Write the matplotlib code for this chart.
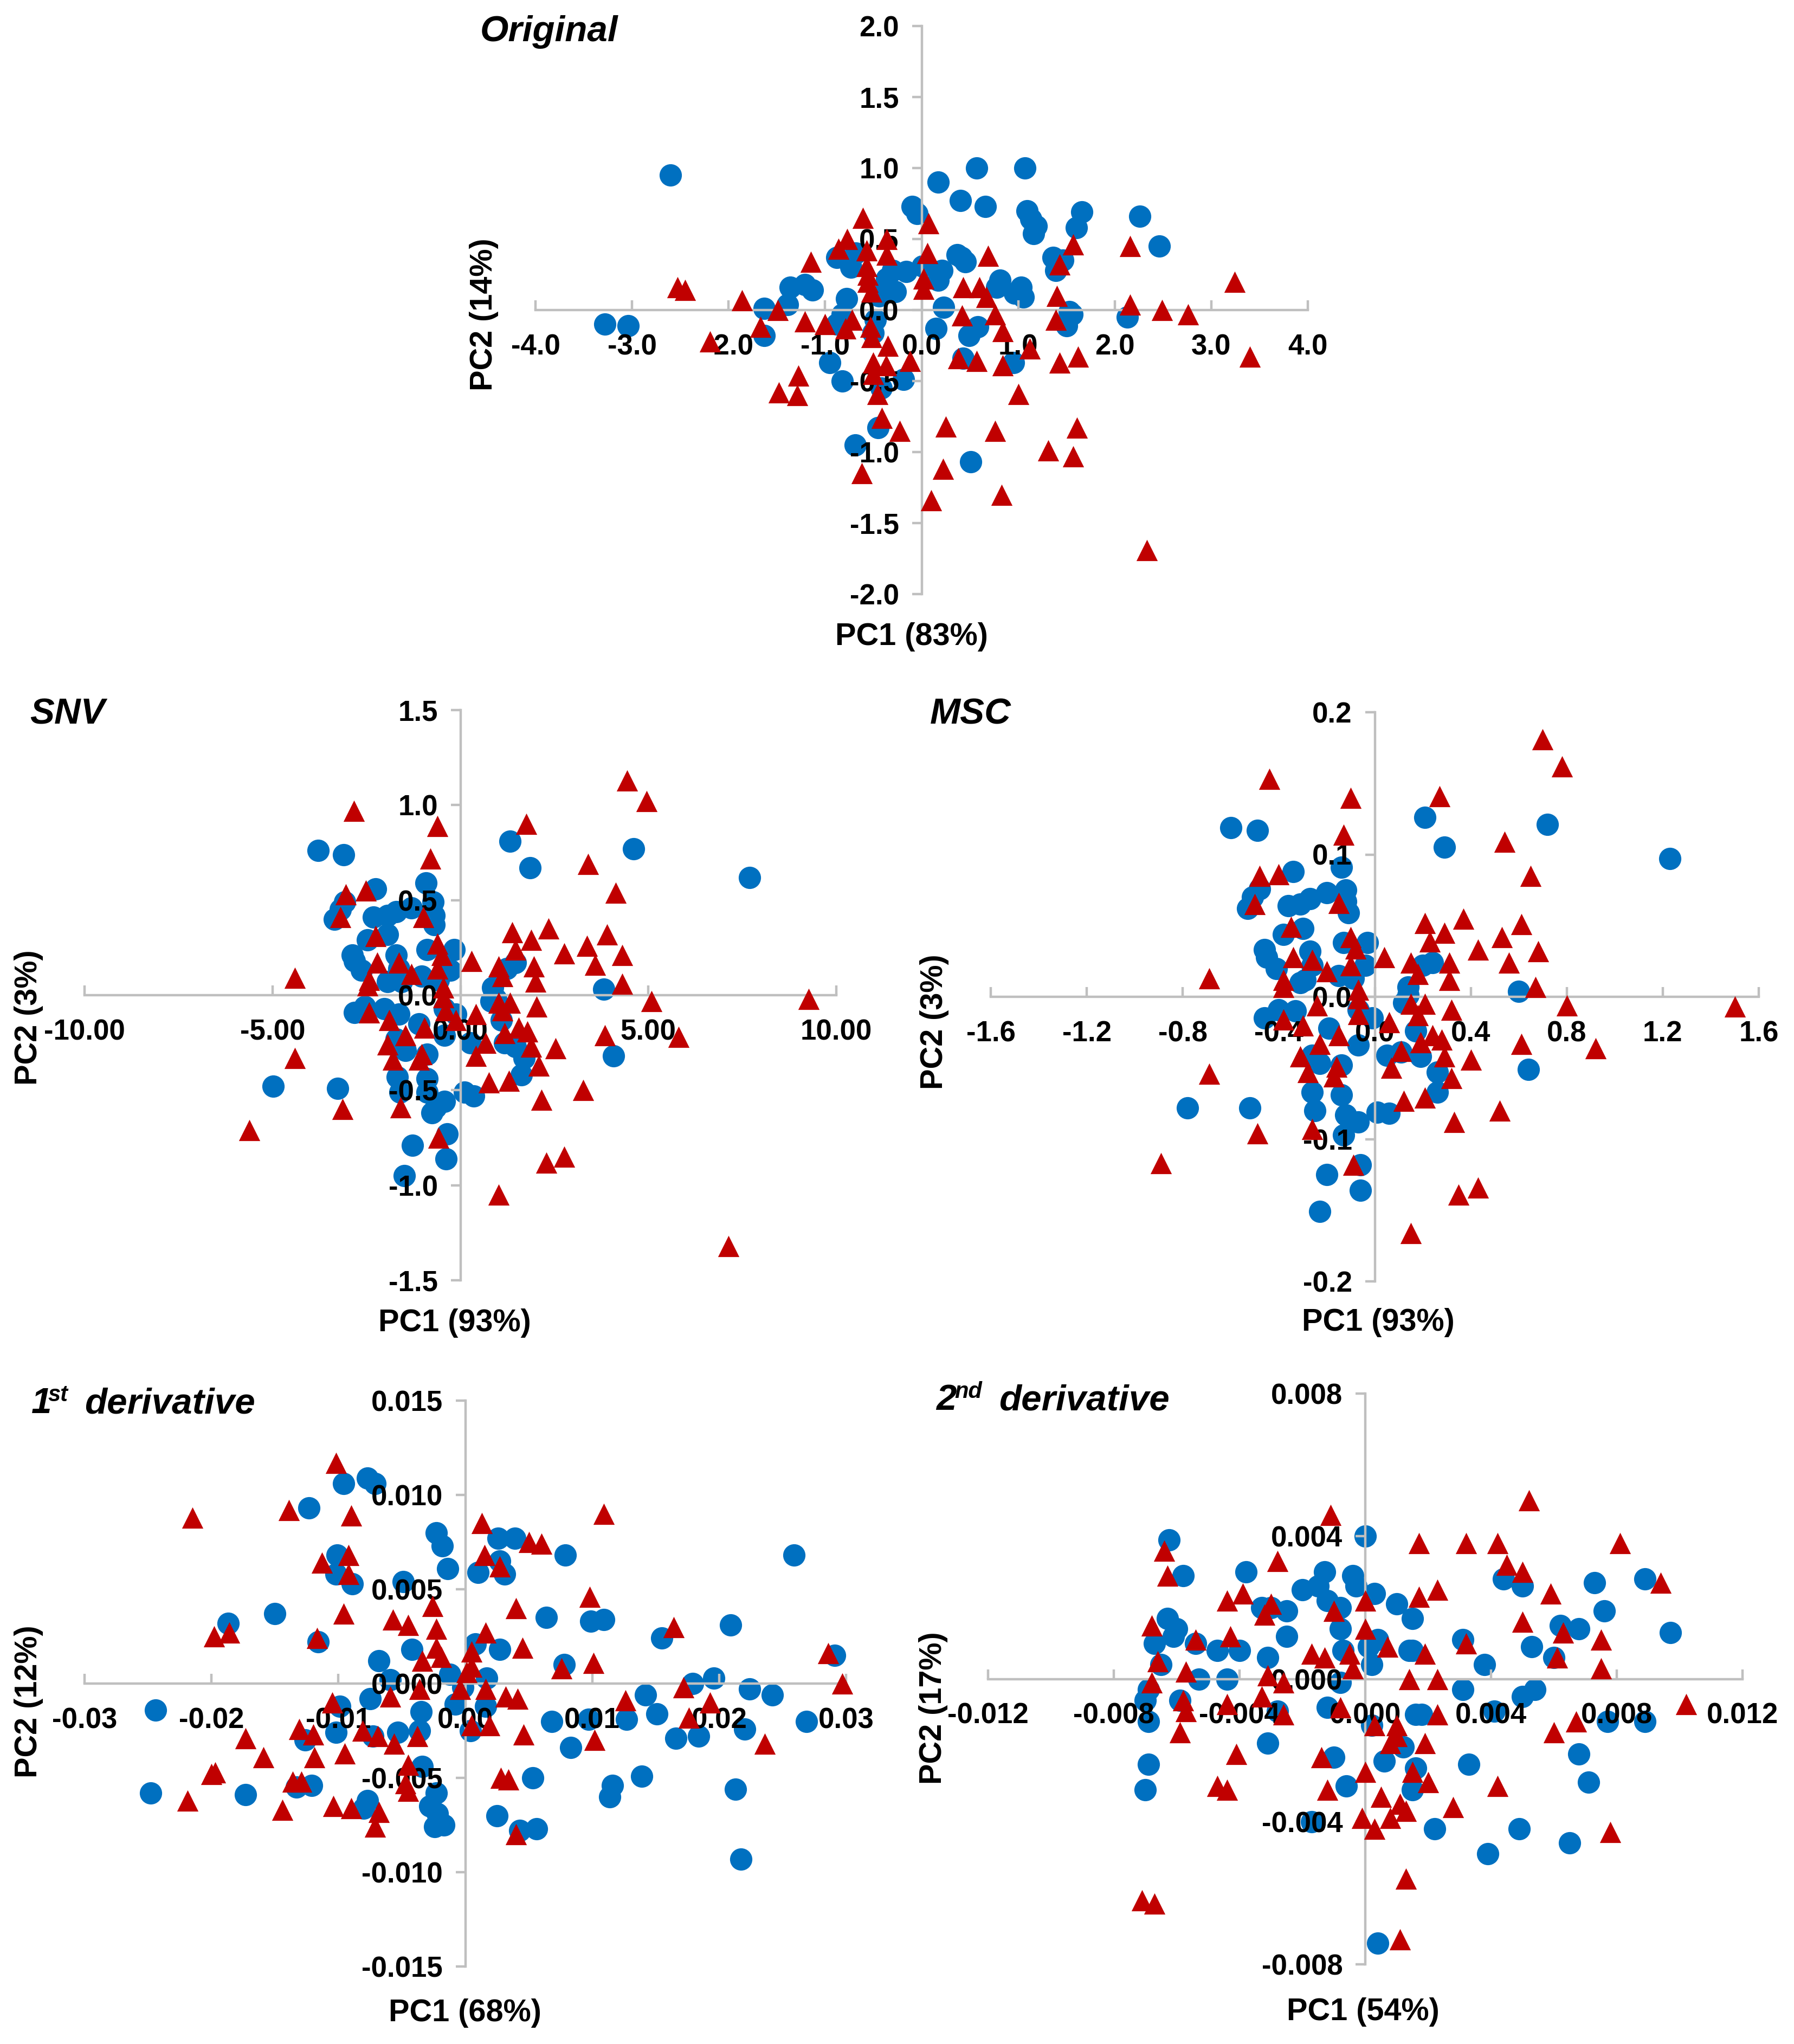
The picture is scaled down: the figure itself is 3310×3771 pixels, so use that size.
import matplotlib
matplotlib.use("Agg")
import matplotlib.pyplot as plt

W, H = 3310, 3771
BLUE = "#0070C0"
RED = "#C00000"
GREY = "#BFBFBF"

plt.rcParams["font.family"] = ["Liberation Sans", "DejaVu Sans"]
plt.rcParams["font.weight"] = "bold"

orig_blue = [(-2.6,0.95),(-3.28,-0.10),(-3.04,-0.11),(0.17,0.90),(0.57,1.00),(1.07,1.00),(0.40,0.77),(0.66,0.73),
    (-0.10,0.73),(-0.05,0.68),(1.09,0.70),(1.13,0.64),(1.19,0.59),(1.16,0.54),(1.66,0.69),(1.60,0.58),(2.26,0.66),
    (2.46,0.45),(1.36,0.37),(1.46,0.35),(1.39,0.28),(0.37,0.39),(0.41,0.37),(0.45,0.34),(0.81,0.21),(0.78,0.16),
    (0.96,0.12),(1.03,0.16),(1.05,0.09),(0.21,0.28),(0.17,0.21),(0.01,0.31),(-0.16,0.27),(-0.30,0.28),(-0.36,0.22),
    (-0.27,0.13),(-0.44,0.10),(-0.88,0.37),(-0.73,0.30),(-0.68,0.40),(-1.36,0.16),(-1.21,0.18),(-1.13,0.14),
    (-1.39,0.04),(-1.63,0.01),(-1.63,-0.18),(-0.78,0.08),(-0.82,-0.03),(-0.88,-0.10),(0.23,0.02),(0.15,-0.13),
    (0.49,-0.18),(0.58,-0.12),(1.53,-0.01),(1.56,-0.03),(1.50,-0.11),(2.13,-0.05),(0.43,-0.34),(0.95,-0.37),
    (-0.95,-0.37),(-0.82,-0.50),(-0.42,-0.55),(-0.19,-0.49),(-0.45,-0.83),(-0.69,-0.95),(0.51,-1.07),(-0.50,-0.16),
    (-0.48,-0.07)]
orig_red = [(-0.61,0.65),(0.07,0.61),(-0.77,0.50),(-0.36,0.50),(-0.86,0.43),(-0.57,0.42),(-0.36,0.39),(0.06,0.40),
    (-1.15,0.34),(0.69,0.38),(-0.57,0.31),(-0.56,0.25),(-0.56,0.20),(1.57,0.46),(2.16,0.45),(1.43,0.32),(0.02,0.22),
    (0.02,0.15),(0.43,0.16),(0.60,0.16),(0.67,0.09),(-0.52,0.13),(3.24,0.20),(-2.53,0.16),(-2.45,0.14),(-1.86,0.07),
    (1.40,0.10),(2.16,0.04),(2.49,0.00),(2.76,-0.03),(-1.49,0.00),(0.42,-0.04),(0.76,-0.03),(1.39,-0.07),(0.84,-0.15),
    (-1.67,-0.12),(-1.21,-0.08),(-1.00,-0.10),(-0.72,-0.07),(-0.79,-0.13),(-0.53,-0.12),(-0.52,-0.19),(-2.19,-0.22),
    (-0.35,-0.25),(1.12,-0.27),(3.40,-0.33),(1.62,-0.33),(1.43,-0.37),(0.38,-0.34),(0.57,-0.36),(0.84,-0.39),
    (-0.12,-0.36),(-0.50,-0.37),(-0.37,-0.39),(-0.50,-0.45),(-1.28,-0.46),(-1.48,-0.58),(-1.29,-0.60),(-0.46,-0.59),
    (1.00,-0.59),(-0.41,-0.76),(-0.23,-0.85),(0.25,-0.82),(0.76,-0.85),(1.61,-0.83),(1.31,-0.99),(1.57,-1.03),
    (-0.62,-1.15),(0.22,-1.12),(0.10,-1.34),(0.83,-1.30),(2.33,-1.69)]

snv_blue = [(-3.79,0.76),(-3.11,0.74),(1.32,0.81),(1.85,0.67),(4.61,0.77),(7.69,0.62),(-2.25,0.56),(-0.91,0.59),
    (-3.08,0.49),(-3.19,0.45),(-3.35,0.40),(-2.32,0.41),(-1.94,0.42),(-1.71,0.44),(-1.30,0.46),(-0.73,0.49),(-0.70,0.42),
    (-0.70,0.37),(-1.94,0.32),(-2.47,0.29),(-0.88,0.24),(-0.17,0.24),(-2.88,0.21),(-2.82,0.18),(-2.63,0.13),(-1.71,0.21),
    (-1.64,0.14),(-1.94,0.07),(-1.56,0.07),(-1.03,0.10),(-0.27,0.13),(-0.58,0.08),(1.47,0.17),(1.24,0.14),(0.86,0.04),
    (0.94,-0.02),(0.82,-0.03),(3.82,0.03),(-2.82,-0.09),(-2.55,-0.06),(-2.02,-0.07),(-1.64,-0.10),(-1.11,-0.15),
    (-0.42,-0.21),(-0.42,-0.07),(-0.12,-0.10),(1.09,-0.13),(0.26,-0.25),(1.17,-0.25),(1.47,-0.27),(1.70,-0.33),
    (1.62,-0.42),(4.08,-0.32),(-1.71,-0.23),(-1.46,-0.29),(-0.88,-0.31),(-1.68,-0.43),(-0.88,-0.44),(-1.61,-0.51),
    (-0.88,-0.51),(-0.42,-0.56),(-0.65,-0.59),(-0.76,-0.62),(0.11,-0.51),(0.36,-0.53),(-4.98,-0.48),(-3.26,-0.49),
    (-0.35,-0.73),(-1.27,-0.79),(-0.38,-0.86),(-1.49,-0.95)]
snv_red = [(4.43,1.13),(4.96,1.02),(-2.84,0.97),(-0.61,0.89),(1.75,0.90),(-0.80,0.72),(3.40,0.69),(-3.05,0.53),
    (-2.52,0.55),(4.13,0.54),(-3.19,0.41),(-0.99,0.41),(2.34,0.35),(1.37,0.33),(3.90,0.32),(1.88,0.29),(-2.25,0.31),
    (3.37,0.26),(-0.61,0.27),(1.47,0.24),(2.76,0.22),(4.31,0.21),(-0.50,0.21),(0.30,0.18),(-2.22,0.17),(-1.64,0.17),
    (1.02,0.15),(1.96,0.15),(3.58,0.16),(-0.61,0.14),(-1.30,0.11),(1.12,0.10),(-4.40,0.09),(-2.43,0.08),(2.00,0.07),
    (-2.47,0.05),(4.31,0.06),(-0.46,0.04),(-0.46,-0.01),(1.02,-0.04),(1.32,-0.04),(5.08,-0.03),(9.26,-0.02),(1.12,-0.08),
    (2.03,-0.06),(-2.43,-0.09),(-0.39,-0.08),(-1.90,-0.13),(0.41,-0.10),(-0.96,-0.17),(-0.12,-0.13),(1.55,-0.17),
    (1.78,-0.19),(1.17,-0.20),(-1.46,-0.21),(3.85,-0.21),(5.80,-0.22),(0.67,-0.25),(-1.94,-0.26),(1.88,-0.27),(2.53,-0.28),
    (-4.40,-0.33),(-1.03,-0.31),(0.41,-0.32),(-1.79,-0.34),(-1.11,-0.34),(2.08,-0.37),(1.29,-0.45),(0.76,-0.46),
    (3.26,-0.50),(2.15,-0.55),(-1.59,-0.59),(-3.13,-0.60),(-5.61,-0.71),(-0.58,-0.75),(2.76,-0.85),(2.28,-0.88),
    (1.02,-1.05),(7.13,-1.32)]

msc_blue = [(-0.60,0.119),(-0.49,0.117),(0.21,0.126),(0.29,0.105),(0.72,0.121),(1.23,0.097),(-0.34,0.088),(-0.14,0.091),
    (-0.48,0.076),(-0.51,0.070),(-0.53,0.062),(-0.36,0.064),(-0.31,0.065),(-0.27,0.069),(-0.20,0.073),(-0.12,0.075),
    (-0.12,0.067),(-0.11,0.059),(-0.30,0.048),(-0.38,0.044),(-0.13,0.038),(-0.03,0.038),(-0.46,0.033),(-0.45,0.028),
    (-0.41,0.020),(-0.27,0.032),(-0.26,0.022),(-0.31,0.010),(-0.29,0.012),(-0.15,0.015),(-0.04,0.022),(-0.09,0.013),
    (0.24,0.024),(0.20,0.022),(0.14,0.007),(0.14,0.001),(0.12,-0.004),(0.60,0.004),(-0.46,-0.015),(-0.40,-0.009),
    (-0.33,-0.010),(-0.19,-0.022),(-0.07,-0.034),(-0.07,-0.009),(-0.01,-0.015),(0.17,-0.024),(0.05,-0.041),(0.11,-0.039),
    (0.19,-0.042),(0.26,-0.053),(0.26,-0.067),(0.64,-0.051),(-0.26,-0.041),(-0.23,-0.047),(-0.14,-0.048),(-0.26,-0.067),
    (-0.14,-0.069),(-0.25,-0.080),(-0.12,-0.083),(-0.07,-0.088),(-0.13,-0.097),(0.01,-0.081),(0.06,-0.082),(-0.78,-0.078),
    (-0.52,-0.078),(-0.06,-0.118),(-0.20,-0.125),(-0.06,-0.136),(-0.23,-0.151)]
msc_red = [(0.70,0.181),(0.78,0.162),(-0.44,0.153),(-0.10,0.140),(0.27,0.141),(-0.13,0.114),(0.54,0.109),(0.65,0.085),
    (-0.48,0.085),(-0.40,0.086),(-0.50,0.065),(-0.15,0.066),(0.37,0.055),(0.21,0.052),(0.61,0.051),(0.29,0.045),
    (-0.35,0.049),(0.53,0.042),(-0.10,0.042),(0.23,0.039),(0.43,0.033),(0.68,0.032),(-0.08,0.034),(0.04,0.028),
    (-0.34,0.028),(-0.26,0.026),(0.15,0.024),(0.31,0.024),(0.56,0.024),(-0.10,0.022),(-0.20,0.018),(0.18,0.016),
    (-0.69,0.013),(-0.38,0.012),(0.31,0.012),(-0.38,0.007),(0.67,0.007),(-0.07,0.005),(-0.07,-0.001),(0.15,-0.005),
    (0.21,-0.005),(0.80,-0.006),(1.50,-0.007),(0.18,-0.013),(0.32,-0.009),(-0.38,-0.016),(-0.07,-0.012),(-0.24,-0.006),
    (-0.30,-0.020),(0.06,-0.018),(-0.15,-0.027),(0.24,-0.027),(0.28,-0.030),(0.19,-0.032),(-0.23,-0.033),(0.61,-0.033),
    (0.92,-0.036),(0.11,-0.038),(-0.31,-0.042),(0.29,-0.042),(0.40,-0.044),(-0.69,-0.054),(-0.16,-0.049),(0.07,-0.050),
    (-0.28,-0.053),(-0.17,-0.056),(0.32,-0.057),(0.21,-0.071),(0.12,-0.073),(0.52,-0.080),(0.33,-0.088),(-0.26,-0.093),
    (-0.49,-0.096),(-0.89,-0.117),(-0.09,-0.118),(0.43,-0.134),(0.35,-0.139),(0.15,-0.166)]

d1_blue = [(-0.0244,-0.0014),(-0.0248,-0.0058),(-0.0187,0.0032),(-0.0150,0.0037),(-0.0173,-0.0059),(-0.0123,0.0093),
    (-0.0096,0.0106),(-0.0077,0.0109),(-0.0071,0.0106),(-0.0023,0.0080),(-0.0018,0.0073),(-0.0014,0.0061),(-0.0101,0.0068),
    (-0.0102,0.0058),(-0.0089,0.0053),(-0.0049,0.0054),(0.0010,0.0059),(0.0026,0.0077),(0.0039,0.0077),(0.0027,0.0065),
    (0.0031,0.0058),(0.0079,0.0068),(0.0259,0.0068),(0.0064,0.0035),(0.0099,0.0033),(0.0109,0.0034),(0.0209,0.0031),
    (0.0155,0.0024),(0.0291,0.0015),(-0.0116,0.0022),(-0.0042,0.0018),(-0.0068,0.0012),(-0.0059,0.0002),(-0.0012,0.0005),
    (0.0008,0.0021),(0.0027,0.0018),(0.0078,0.0010),(0.0017,0.0003),(0.0179,0.0000),(0.0196,0.0003),(0.0224,-0.0003),
    (0.0242,-0.0006),(0.0142,-0.0006),(0.0151,-0.0016),(0.0127,-0.0019),(0.0097,-0.0019),(0.0068,-0.0020),(0.0083,-0.0034),
    (0.0166,-0.0029),(0.0184,-0.0028),(0.0220,-0.0024),(0.0269,-0.0020),(-0.0099,-0.0012),(-0.0075,-0.0008),(-0.0035,-0.0015),
    (-0.0002,-0.0002),(-0.0008,-0.0011),(0.0016,-0.0012),(0.0004,-0.0025),(-0.0102,-0.0026),(-0.0126,-0.0030),(-0.0073,-0.0028),
    (-0.0053,-0.0026),(-0.0036,-0.0025),(-0.0034,-0.0044),(0.0053,-0.0050),(0.0139,-0.0049),(0.0116,-0.0054),(0.0114,-0.0060),
    (0.0213,-0.0056),(-0.0133,-0.0055),(-0.0121,-0.0054),(-0.0077,-0.0062),(-0.0080,-0.0066),(-0.0023,-0.0058),(-0.0028,-0.0065),
    (-0.0022,-0.0069),(-0.0017,-0.0075),(-0.0024,-0.0076),(0.0025,-0.0070),(0.0043,-0.0078),(0.0056,-0.0077),(0.0217,-0.0093)]
d1_red = [(-0.0102,0.0117),(-0.0215,0.0088),(-0.0139,0.0092),(-0.0090,0.0089),(0.0109,0.0090),(0.0013,0.0085),(0.0050,0.0075),
    (0.0060,0.0074),(-0.0092,0.0068),(0.0015,0.0068),(0.0027,0.0062),(-0.0113,0.0064),(-0.0092,0.0058),(0.0098,0.0046),
    (-0.0026,0.0041),(0.0040,0.0040),(-0.0096,0.0037),(-0.0057,0.0034),(-0.0045,0.0031),(-0.0023,0.0029),(0.0164,0.0030),
    (-0.0198,0.0025),(-0.0186,0.0027),(0.0016,0.0027),(-0.0117,0.0024),(0.0045,0.0019),(-0.0023,0.0019),(0.0005,0.0017),
    (0.0286,0.0016),(-0.0034,0.0012),(-0.0019,0.0014),(0.0101,0.0011),(0.0005,0.0009),(0.0076,0.0008),(0.0001,0.0006),
    (0.0297,0.0000),(0.0172,-0.0002),(-0.0004,-0.0003),(0.0016,-0.0003),(-0.0036,-0.0003),(0.0032,-0.0007),(0.0041,-0.0008),
    (-0.0059,-0.0007),(0.0126,-0.0009),(0.0193,-0.0010),(-0.0105,-0.0010),(0.0176,-0.0018),(0.0019,-0.0022),(0.0005,-0.0022),
    (-0.0131,-0.0024),(-0.0120,-0.0027),(-0.0081,-0.0025),(-0.0069,-0.0028),(-0.0038,-0.0028),(0.0046,-0.0027),(0.0102,-0.0030),
    (-0.0173,-0.0029),(-0.0056,-0.0032),(0.0236,-0.0032),(-0.0095,-0.0037),(-0.0159,-0.0039),(-0.0119,-0.0039),(-0.0045,-0.0043),
    (-0.0200,-0.0048),(-0.0197,-0.0047),(0.0028,-0.0050),(0.0034,-0.0051),(-0.0136,-0.0052),(-0.0129,-0.0052),(-0.0047,-0.0053),
    (-0.0045,-0.0057),(-0.0219,-0.0062),(-0.0144,-0.0067),(-0.0104,-0.0065),(-0.0090,-0.0066),(-0.0068,-0.0068),(-0.0071,-0.0076),
    (0.0040,-0.0080)]

d2_blue = [(-0.00625,0.0039),(0.0,0.0040),(-0.0058,0.0029),(-0.0038,0.0030),(-0.0013,0.0030),(-0.0004,0.0029),(-0.0003,0.0026),
    (-0.0020,0.0025),(-0.0015,0.0026),(-0.0012,0.0022),(-0.0008,0.0020),(0.0003,0.0024),(0.0010,0.0021),(0.0015,0.0017),
    (-0.0033,0.0020),(-0.0030,0.0020),(-0.0025,0.0019),(0.0044,0.0028),(0.0050,0.0026),(0.0073,0.0027),(0.0089,0.0028),
    (0.0076,0.0019),(0.0062,0.0015),(0.0068,0.0014),(0.0097,0.0013),(-0.0063,0.0017),(-0.0060,0.0014),(-0.0061,0.0012),
    (-0.0067,0.0010),(-0.0054,0.0010),(-0.0047,0.0008),(-0.0040,0.0008),(-0.0025,0.0012),(-0.0008,0.0014),(-0.0007,0.0008),
    (0.0004,0.0011),(0.0001,0.0009),(0.0014,0.0008),(0.0015,0.0008),(0.0031,0.0011),(0.0053,0.0009),(0.0060,0.0006),
    (0.0038,0.0004),(0.0002,0.0004),(-0.0031,0.0006),(-0.0065,0.0004),(-0.0053,0.0),(-0.0044,0.0),(-0.0008,-0.0001),
    (0.0031,-0.0003),(0.0054,-0.0003),(0.0050,-0.0005),(-0.0069,-0.0003),(-0.0070,-0.0006),(-0.0059,-0.0006),(-0.0069,-0.0012),
    (-0.0028,-0.0009),(-0.0012,-0.0008),(0.0002,-0.0013),(0.0016,-0.0010),(0.0018,-0.0010),(0.0041,-0.0009),(0.0077,-0.0012),
    (0.0089,-0.0012),(-0.0031,-0.0018),(-0.0010,-0.0022),(0.0006,-0.0023),(0.0012,-0.0019),(0.0016,-0.0025),(0.0033,-0.0024),
    (0.0068,-0.0021),(0.0071,-0.0029),(-0.0069,-0.0024),(-0.0070,-0.0031),(-0.0006,-0.0030),(0.0015,-0.0031),(-0.0017,-0.0040),
    (0.0022,-0.0042),(0.0049,-0.0042),(0.0065,-0.0046),(0.0039,-0.0049),(0.0004,-0.0074)]
d2_red = [(0.0052,0.0050),(-0.0011,0.0046),(0.0017,0.0038),(0.0032,0.0038),(0.0042,0.0038),(0.0081,0.0038),(-0.0064,0.0036),
    (-0.0028,0.0033),(0.0045,0.0032),(-0.0063,0.0029),(0.0050,0.0030),(0.0094,0.0027),(0.0023,0.0025),(-0.0039,0.0024),
    (0.0059,0.0024),(-0.0044,0.0022),(0.0017,0.0023),(0.0,0.0022),(-0.0030,0.0021),(-0.0010,0.0019),(-0.0032,0.0018),
    (0.0050,0.0016),(-0.0068,0.0015),(0.0,0.0014),(0.0063,0.0013),(-0.0043,0.0012),(-0.0054,0.0011),(0.0075,0.0011),
    (0.0032,0.0010),(0.0007,0.0009),(-0.0017,0.0007),(-0.0013,0.0006),(-0.0005,0.0007),(0.0019,0.0007),(0.0061,0.0006),
    (-0.0066,0.0005),(-0.0004,0.0003),(-0.0057,0.0002),(0.0075,0.0003),(-0.0031,0.0001),(0.0014,0.0),(0.0023,0.0),
    (-0.0026,-0.0001),(-0.0068,-0.0001),(-0.0033,-0.0005),(0.0102,-0.0007),(-0.0058,-0.0006),(-0.0044,-0.0007),(-0.0057,-0.0009),
    (-0.0008,-0.0008),(0.0023,-0.0010),(-0.0026,-0.0010),(0.0067,-0.0012),(0.0003,-0.0013),(0.0010,-0.0013),(0.0060,-0.0015),
    (-0.0059,-0.0015),(0.0010,-0.0016),(0.0008,-0.0018),(0.0019,-0.0018),(-0.0041,-0.0021),(-0.0014,-0.0022),(0.0015,-0.0026),
    (0.0,-0.0026),(0.0020,-0.0029),(-0.0047,-0.0030),(-0.0044,-0.0031),(-0.0012,-0.0031),(0.0042,-0.0030),(0.0005,-0.0033),
    (0.0011,-0.0035),(0.0028,-0.0036),(0.0013,-0.0037),(0.0008,-0.0039),(-0.0001,-0.0039),(0.0003,-0.0042),(0.0078,-0.0043),
    (0.0013,-0.0056),(-0.0071,-0.0062),(-0.0067,-0.0063),(0.0011,-0.0073)]

orig_xticks = ["-4.0", "-3.0", "-2.0", "-1.0", "0.0", "1.0", "2.0", "3.0", "4.0"]
orig_yticks = ["-2.0", "-1.5", "-1.0", "-0.5", "0.0", "0.5", "1.0", "1.5", "2.0"]
snv_xticks = ["-10.00", "-5.00", "0.00", "5.00", "10.00"]
snv_yticks = ["-1.5", "-1.0", "-0.5", "0.0", "0.5", "1.0", "1.5"]
msc_xticks = ["-1.6", "-1.2", "-0.8", "-0.4", "0.0", "0.4", "0.8", "1.2", "1.6"]
msc_yticks = ["-0.2", "-0.1", "0.0", "0.1", "0.2"]
d1_xticks = ["-0.03", "-0.02", "-0.01", "0.00", "0.01", "0.02", "0.03"]
d1_yticks = ["-0.015", "-0.010", "-0.005", "0.000", "0.005", "0.010", "0.015"]
d2_xticks = ["-0.012", "-0.008", "-0.004", "0.000", "0.004", "0.008", "0.012"]
d2_yticks = ["-0.008", "-0.004", "0.000", "0.004", "0.008"]


def fig_text(fig, px, py, s, **kw):
    # positions are in reference pixels, y measured from the top
    return fig.text(px / W, 1 - py / H, s, **kw)


def panel(fig, box, blue, red, xticks, yticks, xlab, ylab):
    left, right, top, bottom = box
    ax = fig.add_axes([left / W, 1 - bottom / H, (right - left) / W, (bottom - top) / H])
    xvals = [float(t) for t in xticks]
    yvals = [float(t) for t in yticks]
    ax.set_xlim(xvals[0], xvals[-1])
    ax.set_ylim(yvals[0], yvals[-1])
    ax.patch.set_alpha(0)

    for name in ["top", "right"]:
        ax.spines[name].set_visible(False)
    ax.spines["left"].set_position(("data", 0))
    ax.spines["bottom"].set_position(("data", 0))
    for name in ["left", "bottom"]:
        ax.spines[name].set_color(GREY)
        ax.spines[name].set_linewidth(3.2)

    ax.set_xticks(xvals)
    ax.set_xticklabels(xticks)
    ax.set_yticks(yvals)
    ax.set_yticklabels(yticks)
    ax.tick_params(axis="x", direction="in", length=13, width=3.2, color=GREY, pad=31, labelsize=38)
    ax.tick_params(axis="y", direction="out", length=13, width=3.2, color=GREY, pad=17, labelsize=38)
    ax.set_axisbelow(False)

    ax.scatter([p[0] for p in blue], [p[1] for p in blue], s=880, c=BLUE, marker="o",
               linewidths=0, zorder=1, clip_on=False)
    ax.scatter([p[0] for p in red], [p[1] for p in red], s=800, c=RED, marker="^",
               linewidths=0, zorder=3, clip_on=False)

    fig_text(fig, xlab[0], xlab[1], xlab[2], fontsize=41.5, ha="center", va="center")
    fig_text(fig, ylab[0], ylab[1], ylab[2], fontsize=41.5, ha="center", va="center", rotation=90)
    return ax


fig = plt.figure(figsize=(W / 100, H / 100), dpi=100, facecolor="white")

panel(fig, (988, 2413, 48, 1096), orig_blue, orig_red, orig_xticks, orig_yticks,
      (1682, 1175, "PC1 (83%)"), (893, 580, "PC2 (14%)"))
panel(fig, (156, 1543, 1310, 2362), snv_blue, snv_red, snv_xticks, snv_yticks,
      (839, 2441, "PC1 (93%)"), (53, 1877, "PC2 (3%)"))
panel(fig, (1828, 3245, 1314, 2364), msc_blue, msc_red, msc_xticks, msc_yticks,
      (2543, 2440, "PC1 (93%)"), (1724, 1885, "PC2 (3%)"))
panel(fig, (156, 1561, 2584, 3628), d1_blue, d1_red, d1_xticks, d1_yticks,
      (858, 3714, "PC1 (68%)"), (53, 3139, "PC2 (12%)"))
panel(fig, (1823, 3215, 2571, 3624), d2_blue, d2_red, d2_xticks, d2_yticks,
      (2515, 3712, "PC1 (54%)"), (1722, 3151, "PC2 (17%)"))

title_kw = dict(fontsize=48.5, style="italic", ha="left", va="center")
sup_kw = dict(fontsize=30, style="italic", ha="left", va="center")
fig_text(fig, 886, 59, "Original", **title_kw)
fig_text(fig, 55, 1319, "SNV", **title_kw)
fig_text(fig, 1716, 1318, "MSC", **title_kw)
fig_text(fig, 58, 2590, "1", **title_kw)
fig_text(fig, 89, 2574, "st", **sup_kw)
fig_text(fig, 156, 2590, "derivative", **title_kw)
fig_text(fig, 1727, 2584, "2", **title_kw)
fig_text(fig, 1761, 2568, "nd", **sup_kw)
fig_text(fig, 1843, 2584, "derivative", **title_kw)

fig.savefig("out.png", dpi=100, facecolor="white")
